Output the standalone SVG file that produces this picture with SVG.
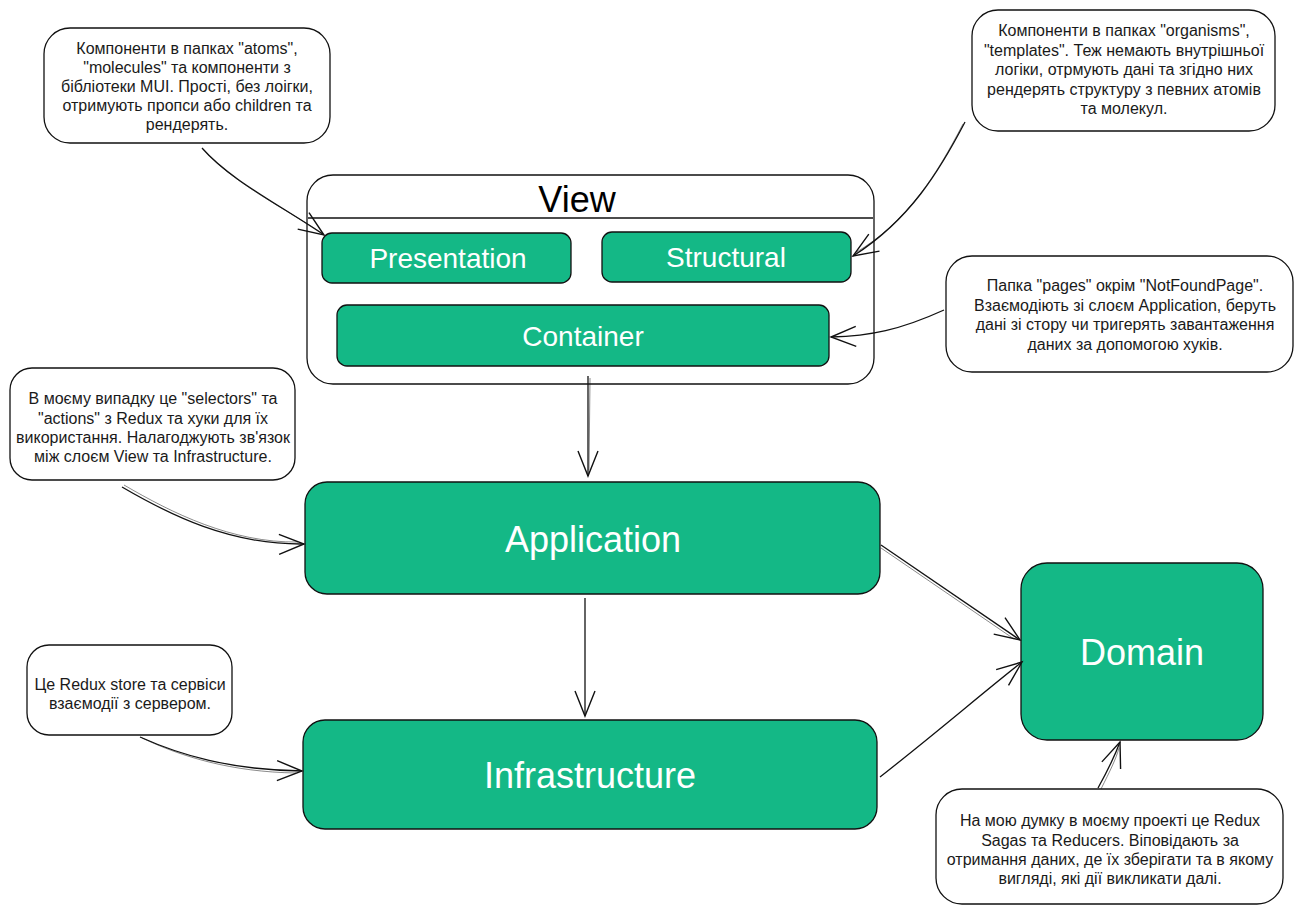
<svg xmlns="http://www.w3.org/2000/svg" width="1303" height="914" viewBox="0 0 1303 914">
<defs>
<marker id="arr" markerWidth="30" markerHeight="24" refX="26" refY="11" orient="auto" markerUnits="userSpaceOnUse">
<path d="M1,1 L26,11 L1,21" fill="none" stroke="#111" stroke-width="1.4"/>
</marker>
</defs>
<style>
.note{fill:#fff;stroke:#111;stroke-width:1.3}
.box{fill:#14b886;stroke:#111;stroke-width:1.3}
.nt{font-family:"Liberation Sans",Arial,sans-serif;font-size:16px;fill:#1a1a1a;text-anchor:middle}
.bt{font-family:"Liberation Sans",Arial,sans-serif;fill:#fff;text-anchor:middle}
.conn{fill:none;stroke:#111;stroke-width:1.3;marker-end:url(#arr)}
.sk{fill:none;stroke:#111;stroke-width:0.7;opacity:0.7}
</style>
<rect width="1303" height="914" fill="#fff"/>

<g id="note-atoms">
<rect class="note" x="44" y="28" width="286" height="115" rx="26"/>
<text class="nt"><tspan x="187" y="54">Компоненти в папках "atoms",</tspan><tspan x="187" y="73">"molecules" та компоненти з</tspan><tspan x="187" y="92">бібліотеки MUI. Прості, без лоігки,</tspan><tspan x="187" y="111">отримують пропси або children та</tspan><tspan x="187" y="130">рендерять.</tspan></text>
</g>

<g id="note-organisms">
<rect class="note" x="972" y="10" width="303" height="121" rx="26"/>
<text class="nt"><tspan x="1124" y="36">Компоненти в папках "organisms",</tspan><tspan x="1124" y="56">"templates". Теж немають внутрішньої</tspan><tspan x="1124" y="75">логіки, отрмують дані та згідно них</tspan><tspan x="1124" y="95">рендерять структуру з певних атомів</tspan><tspan x="1124" y="114">та молекул.</tspan></text>
</g>

<g id="view">
<rect x="307" y="175" width="567" height="209" rx="26" fill="#fff" stroke="#111" stroke-width="1.3"/>
<line x1="308" y1="218" x2="873" y2="218" stroke="#111" stroke-width="1.3"/>
<text x="577" y="212" font-family="Liberation Sans,Arial,sans-serif" font-size="36" fill="#000" text-anchor="middle">View</text>
</g>

<g id="presentation">
<rect class="box" x="322" y="233" width="249" height="50" rx="10"/>
<text class="bt" x="448" y="268" font-size="28">Presentation</text>
</g>

<g id="structural">
<rect class="box" x="602" y="232" width="249" height="50" rx="10"/>
<text class="bt" x="726" y="267" font-size="28">Structural</text>
</g>

<g id="container">
<rect class="box" x="337" y="305" width="492" height="61" rx="10"/>
<text class="bt" x="583" y="346" font-size="28">Container</text>
</g>

<g id="note-pages">
<rect class="note" x="946" y="256" width="347" height="116" rx="26"/>
<text class="nt"><tspan x="1125" y="291">Папка "pages" окрім "NotFoundPage".</tspan><tspan x="1125" y="311">Взаємодіють зі слоєм Application, беруть</tspan><tspan x="1125" y="330">дані зі стору чи тригерять завантаження</tspan><tspan x="1125" y="350">даних за допомогою хуків.</tspan></text>
</g>

<g id="note-selectors">
<rect class="note" x="10" y="368" width="285" height="112" rx="22"/>
<text class="nt"><tspan x="153" y="404">В моєму випадку це "selectors" та</tspan><tspan x="153" y="424">"actions" з Redux та хуки для їх</tspan><tspan x="153" y="443">використання. Налагоджують зв'язок</tspan><tspan x="153" y="462">між слоєм View та Infrastructure.</tspan></text>
</g>

<g id="application">
<rect class="box" x="305" y="482" width="575" height="112" rx="22"/>
<text class="bt" x="593" y="552" font-size="36">Application</text>
</g>

<g id="infrastructure">
<rect class="box" x="303" y="720" width="574" height="109" rx="22"/>
<text class="bt" x="590" y="788" font-size="36">Infrastructure</text>
</g>

<g id="domain">
<rect class="box" x="1021" y="563" width="242" height="177" rx="26"/>
<text class="bt" x="1142" y="665" font-size="36">Domain</text>
</g>

<g id="note-redux-store">
<rect class="note" x="27" y="645" width="205" height="90" rx="22"/>
<text class="nt"><tspan x="130" y="690">Це Redux store та сервіси</tspan><tspan x="130" y="709">взаємодії з сервером.</tspan></text>
</g>

<g id="note-sagas">
<rect class="note" x="936" y="789" width="347" height="115" rx="26"/>
<text class="nt"><tspan x="1110" y="826">На мою думку в моєму проекті це Redux</tspan><tspan x="1110" y="846">Sagas та Reducers. Віповідають за</tspan><tspan x="1110" y="865">отримання даних, де їх зберігати та в якому</tspan><tspan x="1110" y="884">вигляді, які дії викликати далі.</tspan></text>
</g>

<g id="connectors">
<path class="conn" d="M202,148 C230,180 280,205 324,235"/>
<path class="sk" d="M204,150 C232,182 282,207 322,233"/>
<path class="conn" d="M965,122 C940,170 910,220 853,256"/>
<path class="sk" d="M963,124 C938,172 908,222 855,253"/>
<path class="conn" d="M944,310 C900,330 870,336 831,337"/>
<path class="conn" d="M588,376 L588,476"/>
<path class="sk" d="M590,378 L589,470"/>
<path class="conn" d="M122,487 C170,515 230,545 304,544"/>
<path class="sk" d="M124,485 C172,513 232,543 298,542"/>
<path class="conn" d="M585,598 L585,716"/>
<path class="conn" d="M881,545 L1020,640"/>
<path class="sk" d="M881,548 L1014,639"/>
<path class="conn" d="M140,737 C180,755 230,770 302,771"/>
<path class="sk" d="M142,738 C182,757 232,772 296,773"/>
<path class="conn" d="M880,777 C940,730 980,695 1022,662"/>
<path class="conn" d="M1098,788 C1108,770 1114,758 1120,742"/>
<path class="sk" d="M1101,789 C1110,771 1116,759 1119,748"/>
</g>
</svg>
